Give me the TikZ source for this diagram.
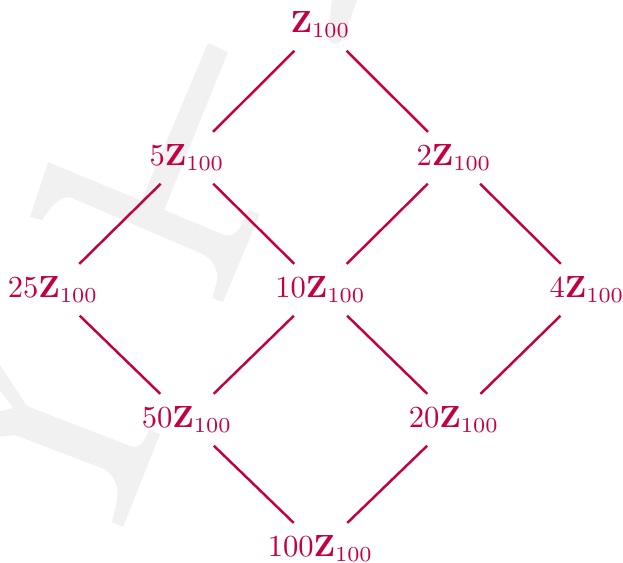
\documentclass[tikz,border=0pt]{standalone}
\definecolor{lat}{RGB}{196,0,67}
\definecolor{wm}{RGB}{241,241,241}
\begin{document}
\begin{tikzpicture}[x=0.327pt,y=-0.327pt,
  lbl/.style={text=lat, inner sep=4.3pt, outer sep=0pt, anchor=base},
  link/.style={draw=lat, line width=0.8pt}]
\useasboundingbox (0,0) rectangle (623,563);
% watermark (light grey glyph fragments)
\begin{scope}
\clip (0,0) rectangle (623,563);
\fill[wm] (48,162) -- (222,234) .. controls (236,240) and (241,226) .. (245,217)
  -- (248.6,209.8) -- (259.7,214.4) -- (223,302) -- (212,298) -- (216,285)
  .. controls (220,272) and (214,259) .. (200,253) -- (72,198)
  .. controls (62,194) and (52,205) .. (42,220) -- (30,217) -- cycle;
\fill[wm] (208,43) -- (228,52) -- (163,213) -- (140,204) -- cycle;
\fill[wm] (332,-2) -- (358,-2) -- (342,40) .. controls (339,46) and (329,45) .. (328,38) -- cycle;
\fill[wm] (-2,362) -- (27,406) -- (130,446) .. controls (140,450) and (145,440) .. (149,430)
  -- (160,434) -- (123,527) -- (112,522) -- (116,505)
  .. controls (120,490) and (116,476) .. (104,469) -- (15,435) -- (-2,437)
  -- (-2,412) -- (13,408) -- (-2,388) -- cycle;
\end{scope}
% lattice
\node[lbl] (z)    at (320.5,33)  {$\mathbf{Z}_{100}$};
\node[lbl] (n5)   at (187,166)   {$5\mathbf{Z}_{100}$};
\node[lbl] (n2)   at (454,166)   {$2\mathbf{Z}_{100}$};
\node[lbl] (n25)  at (53,298)    {$25\mathbf{Z}_{100}$};
\node[lbl] (n10)  at (320.5,298) {$10\mathbf{Z}_{100}$};
\node[lbl] (n4)   at (587,298)   {$4\mathbf{Z}_{100}$};
\node[lbl] (n50)  at (187,428)   {$50\mathbf{Z}_{100}$};
\node[lbl] (n20)  at (454,428)   {$20\mathbf{Z}_{100}$};
\node[lbl] (n100) at (320.5,557) {$100\mathbf{Z}_{100}$};
\draw[link] (z) -- (n5);
\draw[link] (z) -- (n2);
\draw[link] (n5) -- (n25);
\draw[link] (n5) -- (n10);
\draw[link] (n2) -- (n10);
\draw[link] (n2) -- (n4);
\draw[link] (n25) -- (n50);
\draw[link] (n10) -- (n50);
\draw[link] (n10) -- (n20);
\draw[link] (n4) -- (n20);
\draw[link] (n50) -- (n100);
\draw[link] (n20) -- (n100);
\end{tikzpicture}
\end{document}
